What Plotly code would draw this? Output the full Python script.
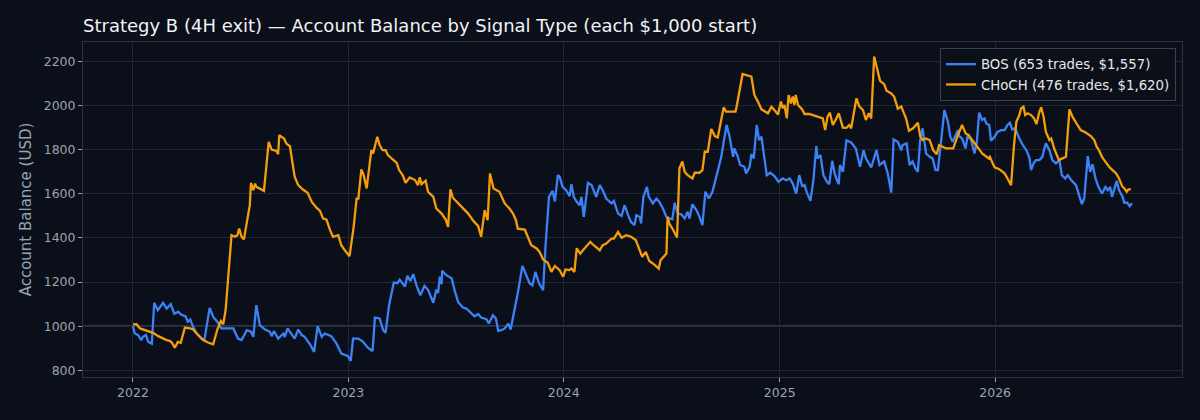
import pandas as pd
import plotly.graph_objects as go

# days since 2022-01-01 and running balance, per series
bos_day = [0, 3, 9, 14, 17, 22, 26, 32, 36, 42, 46, 51, 57, 64, 70, 77, 82, 89, 93, 97,
           102, 108, 116, 121, 130, 136, 143, 150, 159, 170, 178, 184, 193, 200, 204, 209, 215, 224, 232, 235,
           239, 246, 255, 257, 262, 269, 274, 280, 286, 291, 300, 307, 313, 320, 325, 336, 345, 353, 364, 369,
           373, 382, 390, 398, 406, 410, 418, 424, 428, 434, 442, 448, 452, 461, 465, 470, 475, 481, 487, 494,
           500, 509, 514, 517, 520, 523, 524, 531, 540, 545, 551, 559, 565, 574, 579, 585, 590, 599, 603, 610,
           615, 619, 624, 630, 636, 640, 644, 652, 660, 667, 672, 677, 682, 688, 695, 699, 705, 711, 715, 720,
           723, 728, 734, 740, 743, 747, 752, 757, 760, 764, 771, 777, 782, 785, 791, 796, 802, 811, 815, 822,
           828, 833, 839, 844, 850, 853, 859, 861, 865, 871, 874, 881, 887, 892, 898, 904, 909, 914, 918, 923,
           929, 935, 940, 943, 948, 955, 960, 965, 970, 976, 982, 986, 991, 997, 1002, 1006, 1011, 1017, 1019, 1025,
           1029, 1036, 1039, 1045, 1048, 1052, 1057, 1061, 1065, 1070, 1074, 1080, 1087, 1094, 1101, 1107, 1113, 1118, 1124, 1129,
           1134, 1138, 1142, 1148, 1153, 1158, 1160, 1165, 1170, 1176, 1180, 1185, 1189, 1193, 1196, 1198, 1203, 1209, 1217, 1225,
           1232, 1238, 1242, 1251, 1255, 1260, 1265, 1273, 1279, 1285, 1289, 1296, 1302, 1304, 1311, 1316, 1321, 1326, 1330, 1334,
           1338, 1344, 1350, 1355, 1360, 1364, 1369, 1375, 1381, 1385, 1389, 1394, 1398, 1400, 1405, 1411, 1414, 1420, 1426, 1430,
           1434, 1439, 1443, 1446, 1451, 1454, 1460, 1465, 1471, 1477, 1482, 1486, 1490, 1495, 1502, 1508, 1514, 1519, 1522, 1526,
           1530, 1536, 1541, 1544, 1547, 1553, 1558, 1564, 1570, 1574, 1580, 1584, 1591, 1598, 1604, 1608, 1612, 1615, 1618, 1622,
           1626, 1631, 1636, 1642, 1648, 1652, 1656, 1659, 1663, 1667, 1671, 1677, 1680, 1685, 1689, 1693]
bos_balance = [1000, 968, 959, 937, 952, 960, 929, 921, 1106, 1072, 1087, 1106, 1080, 1100, 1057, 1065, 1052, 1045, 1020, 1030,
               997, 967, 944, 937, 1083, 1042, 1020, 990, 990, 990, 944, 937, 982, 975, 952, 1095, 1005, 985, 975, 955,
               978, 944, 967, 950, 990, 960, 944, 985, 960, 952, 918, 884, 1000, 952, 967, 955, 921, 876, 865, 843,
               944, 944, 929, 903, 888, 1039, 1035, 982, 970, 1095, 1198, 1195, 1211, 1180, 1228, 1205, 1236, 1180, 1140, 1183,
               1165, 1106, 1165, 1150, 1224, 1190, 1251, 1231, 1217, 1163, 1110, 1085, 1080, 1057, 1045, 1055, 1039, 1032, 1012, 1050,
               1035, 979, 982, 990, 1012, 985, 1035, 1148, 1273, 1231, 1195, 1185, 1246, 1195, 1163, 1359, 1586, 1613, 1565, 1684,
               1677, 1631, 1616, 1589, 1643, 1586, 1563, 1548, 1586, 1495, 1649, 1639, 1601, 1586, 1639, 1616, 1578, 1556, 1567, 1510,
               1499, 1548, 1503, 1472, 1458, 1503, 1495, 1465, 1586, 1631, 1586, 1556, 1578, 1563, 1533, 1495, 1488, 1484, 1559, 1510,
               1507, 1488, 1518, 1488, 1552, 1525, 1495, 1458, 1609, 1578, 1609, 1649, 1699, 1767, 1850, 1911, 1858, 1767, 1805, 1767,
               1730, 1722, 1692, 1722, 1779, 1760, 1911, 1843, 1858, 1767, 1684, 1695, 1680, 1654, 1669, 1661, 1669, 1646, 1601, 1684,
               1635, 1639, 1605, 1568, 1661, 1816, 1760, 1775, 1684, 1654, 1643, 1749, 1692, 1661, 1643, 1730, 1699, 1841, 1832, 1805,
               1722, 1797, 1760, 1719, 1752, 1797, 1730, 1746, 1692, 1605, 1846, 1835, 1797, 1820, 1828, 1730, 1746, 1714, 1699, 1843,
               1896, 1782, 1767, 1760, 1707, 1707, 1828, 1979, 1926, 1858, 1835, 1861, 1888, 1861, 1850, 1805, 1858, 1846, 1782, 1835,
               1967, 1934, 1941, 1918, 1911, 1840, 1858, 1880, 1888, 1888, 1911, 1921, 1891, 1896, 1850, 1820, 1797, 1764, 1707, 1737,
               1752, 1752, 1767, 1800, 1828, 1797, 1752, 1737, 1752, 1684, 1669, 1684, 1658, 1639, 1586, 1553, 1578, 1677, 1770, 1699,
               1733, 1669, 1631, 1601, 1631, 1616, 1631, 1586, 1628, 1658, 1616, 1586, 1559, 1559, 1544, 1557]

choch_day = [0, 6, 12, 17, 26, 34, 43, 51, 57, 63, 66, 71, 76, 81, 88, 97, 102, 108, 113, 119,
             128, 136, 143, 149, 153, 157, 161, 167, 173, 177, 180, 184, 188, 198, 200, 204, 207, 209, 222, 230,
             235, 243, 246, 248, 256, 260, 266, 270, 274, 280, 288, 296, 303, 311, 317, 322, 328, 334, 339, 348,
             353, 359, 367, 374, 379, 382, 387, 391, 396, 404, 407, 414, 418, 423, 428, 432, 441, 447, 451, 457,
             462, 469, 478, 483, 486, 489, 496, 500, 509, 514, 523, 530, 534, 538, 542, 551, 559, 568, 576, 585,
             590, 596, 601, 605, 611, 619, 621, 630, 638, 644, 649, 652, 664, 669, 675, 684, 689, 695, 703, 709,
             715, 723, 729, 733, 739, 743, 748, 752, 758, 765, 775, 779, 785, 791, 796, 802, 811, 815, 822, 828,
             836, 844, 852, 859, 863, 869, 875, 881, 887, 891, 894, 904, 906, 909, 915, 922, 926, 931, 935, 940,
             948, 952, 960, 965, 969, 974, 980, 986, 991, 1001, 1005, 1021, 1023, 1033, 1048, 1053, 1059, 1065, 1076, 1082,
             1089, 1093, 1098, 1101, 1104, 1108, 1111, 1115, 1118, 1121, 1123, 1127, 1134, 1138, 1146, 1158, 1169, 1173, 1177, 1181,
             1186, 1192, 1196, 1203, 1209, 1214, 1217, 1226, 1231, 1237, 1242, 1247, 1251, 1256, 1260, 1266, 1273, 1277, 1285, 1290,
             1296, 1302, 1306, 1310, 1315, 1322, 1330, 1334, 1338, 1344, 1350, 1356, 1362, 1366, 1378, 1390, 1398, 1405, 1411, 1416,
             1420, 1427, 1433, 1439, 1446, 1450, 1452, 1457, 1460, 1468, 1477, 1482, 1488, 1493, 1497, 1502, 1505, 1509, 1512, 1516,
             1522, 1527, 1531, 1536, 1539, 1543, 1547, 1553, 1556, 1561, 1565, 1569, 1575, 1581, 1587, 1592, 1599, 1606, 1615, 1623,
             1629, 1633, 1637, 1642, 1648, 1654, 1660, 1666, 1671, 1676, 1680, 1684, 1687, 1691]
choch_balance = [1008, 1009, 990, 985, 978, 970, 955, 944, 937, 933, 925, 903, 929, 925, 994, 990, 985, 967, 955, 937,
                 925, 918, 985, 1023, 1009, 1072, 1208, 1412, 1405, 1412, 1442, 1405, 1393, 1548, 1649, 1616, 1646, 1631, 1613, 1835,
                 1800, 1794, 1779, 1865, 1850, 1827, 1815, 1752, 1677, 1639, 1619, 1604, 1563, 1537, 1522, 1488, 1483, 1435, 1405, 1412,
                 1367, 1344, 1317, 1450, 1578, 1578, 1710, 1684, 1624, 1797, 1782, 1858, 1820, 1797, 1797, 1775, 1755, 1740, 1707, 1684,
                 1649, 1674, 1662, 1639, 1674, 1643, 1659, 1609, 1586, 1533, 1510, 1483, 1450, 1620, 1582, 1556, 1537, 1510, 1480, 1453,
                 1405, 1526, 1480, 1692, 1624, 1613, 1609, 1556, 1533, 1510, 1480, 1442, 1438, 1405, 1367, 1352, 1337, 1302, 1287, 1246,
                 1273, 1254, 1224, 1257, 1254, 1261, 1246, 1352, 1329, 1352, 1382, 1371, 1359, 1344, 1367, 1374, 1397, 1397, 1427, 1401,
                 1412, 1405, 1390, 1337, 1314, 1337, 1295, 1284, 1272, 1261, 1299, 1329, 1495, 1465, 1438, 1402, 1715, 1746, 1699, 1684,
                 1669, 1695, 1695, 1707, 1790, 1790, 1893, 1861, 1855, 1991, 1972, 1972, 1995, 2142, 2130, 2047, 2017, 1982, 1964, 1994,
                 1972, 1959, 2017, 1987, 2002, 1941, 2047, 2009, 2040, 2002, 2047, 2002, 1982, 1961, 1961, 1952, 1941, 1888, 1949, 1967,
                 1911, 1941, 1964, 1899, 1898, 1911, 1896, 2032, 1994, 1979, 1934, 1964, 1941, 2221, 2176, 2111, 2096, 2066, 2054, 2039,
                 1985, 1995, 1967, 1941, 1885, 1896, 1921, 1861, 1843, 1850, 1843, 1797, 1779, 1820, 1805, 1805, 1866, 1911, 1873, 1866,
                 1850, 1828, 1805, 1782, 1767, 1760, 1767, 1737, 1719, 1711, 1692, 1669, 1639, 1820, 1926, 1956, 1986, 1994, 1956, 1964,
                 1956, 1941, 1915, 1971, 1991, 1949, 1880, 1843, 1850, 1805, 1782, 1752, 1760, 1767, 1982, 1949, 1918, 1888, 1876, 1861,
                 1843, 1813, 1797, 1767, 1744, 1722, 1707, 1692, 1669, 1635, 1624, 1609, 1620, 1620]

bos_label = "BOS (653 trades, $1,557)"
choch_label = "CHoCH (476 trades, $1,620)"
start_balance = 1000
start_date = pd.Timestamp("2022-01-01")

bos_dates = start_date + pd.to_timedelta(bos_day, unit="D")
choch_dates = start_date + pd.to_timedelta(choch_day, unit="D")

BG = "#0b0f19"
GRID = "#212834"
SPINE = "#2c3442"
TXT = "#9aa3b1"
FONT = "DejaVu Sans"

fig = go.Figure()
fig.add_trace(go.Scatter(x=bos_dates, y=bos_balance, mode="lines", name=bos_label,
                         line=dict(color="#3b82f6", width=2.3)))
fig.add_trace(go.Scatter(x=choch_dates, y=choch_balance, mode="lines", name=choch_label,
                         line=dict(color="#f59e0b", width=2.3)))
fig.add_hline(y=start_balance, line=dict(color="#56606e", width=1.3), layer="below")

# matplotlib-like 5% padding on the x range
span = max(bos_day[-1], choch_day[-1])
pad = span * 0.05
x_range = [start_date - pd.Timedelta(days=pad), start_date + pd.Timedelta(days=span + pad)]

fig.update_layout(
    width=1200, height=420,
    paper_bgcolor=BG, plot_bgcolor=BG,
    margin=dict(l=83, r=18, t=42, b=43),
    font=dict(family=FONT, color=TXT, size=12.5),
    title=dict(text="Strategy B (4H exit) — Account Balance by Signal Type (each $1,000 start)",
               x=83 / 1200, xanchor="left", y=1 - 26 / 420, yanchor="middle",
               font=dict(family=FONT, size=18, color="#f1f3f6")),
    legend=dict(x=0.9945, y=0.982, xanchor="right", yanchor="top",
                bgcolor="rgba(11,15,25,0.85)", bordercolor="#3a4252", borderwidth=1,
                font=dict(family=FONT, size=13.3, color="#e5e7eb"), itemwidth=30),
    showlegend=True,
)
fig.update_xaxes(
    range=x_range, tickvals=pd.date_range("2022-01-01", "2026-01-01", freq="YS"),
    tickformat="%Y", showgrid=True, gridcolor=GRID, gridwidth=1, zeroline=False,
    showline=True, mirror=True, linecolor=SPINE, linewidth=1,
    ticks="outside", ticklen=4, tickcolor=TXT, tickfont=dict(size=12.5, color=TXT),
)
fig.update_yaxes(
    range=[770, 2287], tickvals=list(range(800, 2201, 200)),
    showgrid=True, gridcolor=GRID, gridwidth=1, zeroline=False,
    showline=True, mirror=True, linecolor=SPINE, linewidth=1,
    ticks="outside", ticklen=4, tickcolor=TXT, tickfont=dict(size=12.5, color=TXT),
    title=dict(text="Account Balance (USD)", standoff=8, font=dict(size=15, color=TXT)),
)

# drop the page's default body margin so the figure sits at the window origin
fig.write_html("out.html", config={"displayModeBar": False},
               post_script="document.body.style.margin='0';document.body.style.background='#0b0f19';")
